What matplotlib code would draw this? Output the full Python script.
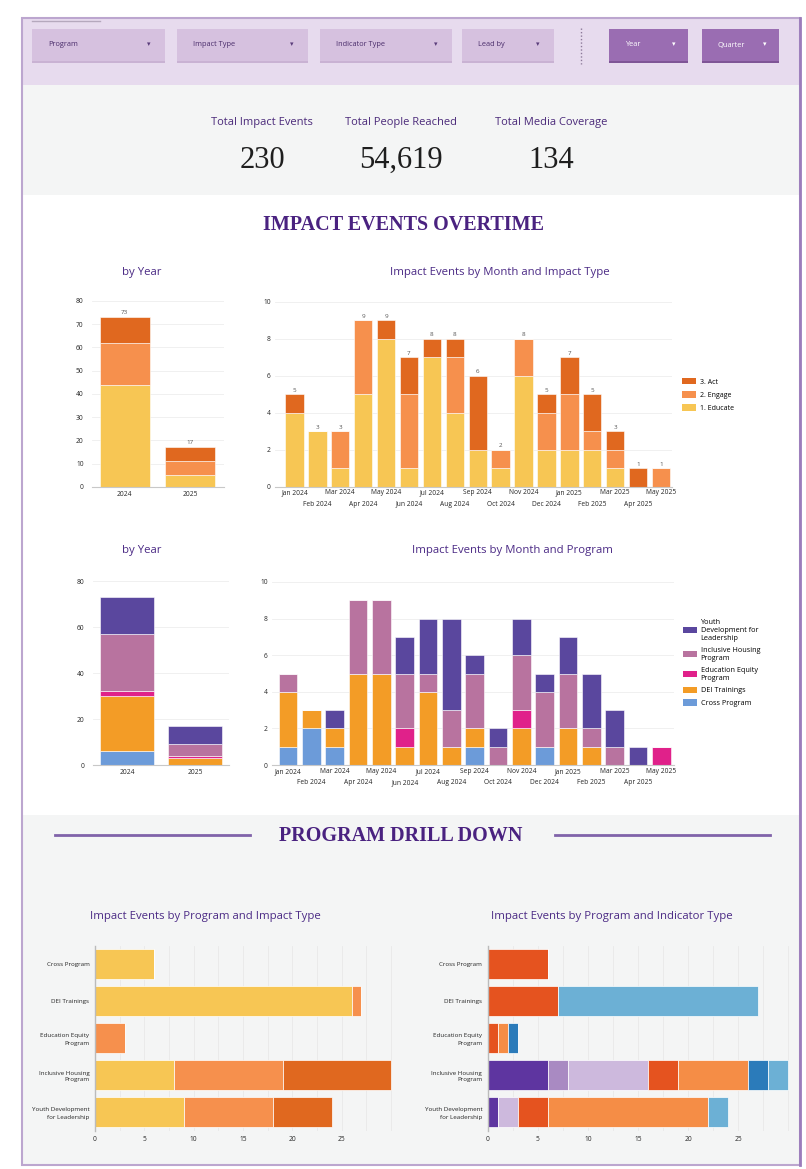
import matplotlib
matplotlib.use('Agg')
import matplotlib.pyplot as plt
from matplotlib.patches import Rectangle, Patch
from matplotlib.lines import Line2D
import numpy as np

plt.rcParams['font.family'] = ['Open Sans', 'DejaVu Sans']

W, H = 806, 1169

# ---------------- data ----------------
months = ['Jan 2024', 'Feb 2024', 'Mar 2024', 'Apr 2024', 'May 2024', 'Jun 2024',
          'Jul 2024', 'Aug 2024', 'Sep 2024', 'Oct 2024', 'Nov 2024', 'Dec 2024',
          'Jan 2025', 'Feb 2025', 'Mar 2025', 'Apr 2025', 'May 2025']
educate = [4, 3, 1, 5, 8, 1, 7, 4, 2, 1, 6, 2, 2, 2, 1, 0, 0]
engage = [0, 0, 2, 4, 0, 4, 0, 3, 0, 1, 2, 2, 3, 1, 1, 0, 1]
act = [1, 0, 0, 0, 1, 2, 1, 1, 4, 0, 0, 1, 2, 2, 1, 1, 0]

years = ['2024', '2025']
year_educate = [44, 5]
year_engage = [18, 6]
year_act = [11, 6]

cross_m = [1, 2, 1, 0, 0, 0, 0, 0, 1, 0, 0, 1, 0, 0, 0, 0, 0]
dei_m = [3, 1, 1, 5, 5, 1, 4, 1, 1, 0, 2, 0, 2, 1, 0, 0, 0]
edu_m = [0, 0, 0, 0, 0, 1, 0, 0, 0, 0, 1, 0, 0, 0, 0, 0, 1]
incl_m = [1, 0, 0, 4, 4, 3, 1, 2, 3, 1, 3, 3, 3, 1, 1, 0, 0]
youth_m = [0, 0, 1, 0, 0, 2, 3, 5, 1, 1, 2, 1, 2, 3, 2, 1, 0]

year_cross = [6, 0]
year_dei = [24, 3]
year_edu = [2, 1]
year_incl = [25, 5]
year_youth = [16, 8]

programs = ['Cross Program', 'DEI Trainings', 'Education Equity\nProgram',
            'Inclusive Housing\nProgram', 'Youth Development\nfor Leadership']
prog_educate = [6, 26, 0, 8, 9]
prog_engage = [0, 1, 3, 11, 9]
prog_act = [0, 0, 0, 11, 6]

indicator_types = ['Indicator 1', 'Indicator 2', 'Indicator 3', 'Indicator 4',
                   'Indicator 5', 'Indicator 6', 'Indicator 7']
indicator_values = [
    [0, 0, 0, 6, 1],
    [0, 0, 0, 2, 0],
    [0, 0, 0, 8, 2],
    [6, 7, 1, 3, 3],
    [0, 0, 1, 7, 16],
    [0, 0, 1, 2, 0],
    [0, 20, 0, 2, 2],
]

kpi_labels = ['Total Impact Events', 'Total People Reached', 'Total Media Coverage']
kpi_values = ['230', '54,619', '134']

filters = ['Program', 'Impact Type', 'Indicator Type', 'Lead by']
filters2 = ['Year', 'Quarter']

# ---------------- styles ----------------
C_EDU, C_ENG, C_ACT = '#F7C654', '#F6904D', '#E0681F'
C_YOUTH, C_INCL, C_EQ, C_DEI, C_CROSS = '#5A479E', '#B8739F', '#E0218A', '#F39C26', '#6C9BD9'
IND_COLORS = ['#5E35A0', '#A98AC2', '#CDB9DD', '#E5531F', '#F58D46', '#2B7BBA', '#6CB0D5']
PURPLE_T = '#4B2A85'
TICK_C = '#262626'

fig = plt.figure(figsize=(W / 100, H / 100), dpi=100)
fig.patch.set_facecolor('white')


def rect(x0, y0, x1, y1, **kw):
    r = Rectangle((x0 / W, 1 - y1 / H), (x1 - x0) / W, (y1 - y0) / H,
                  transform=fig.transFigure, **kw)
    fig.add_artist(r)
    return r


def ftext(x, y, s, **kw):
    kw.setdefault('ha', 'center')
    kw.setdefault('va', 'center')
    return fig.text(x / W, 1 - y / H, s, **kw)


def fline(x0, y0, x1, y1, **kw):
    fig.add_artist(Line2D([x0 / W, x1 / W], [1 - y0 / H, 1 - y1 / H],
                          transform=fig.transFigure, **kw))


def axpx(l, t, r, b):
    ax = fig.add_axes([l / W, 1 - b / H, (r - l) / W, (b - t) / H])
    ax.set_facecolor('none')
    return ax


# ---------------- backgrounds ----------------
rect(22, 18, 800, 85, facecolor='#E7DBEE', edgecolor='none', zorder=0)
rect(22, 85, 800, 195, facecolor='#F4F5F5', edgecolor='none', zorder=0)
rect(22, 815, 800, 1165, facecolor='#F4F5F5', edgecolor='none', zorder=0)
rect(22, 18, 800, 1165, facecolor='none', edgecolor='#BCA6CF', linewidth=1.5, zorder=1)
fline(800, 18, 800, 1165, color='#9B7CBB', linewidth=2)
fline(32, 21, 100, 21, color='#B5A8BD', linewidth=1)

# filter buttons
btn_pos = [(32, 165), (177, 308), (320, 452), (462, 554)]
for (x0, x1), lab in zip(btn_pos, filters):
    rect(x0, 31, x1, 63, facecolor='#C9B2D3', edgecolor='none', zorder=1)
    rect(x0, 29, x1, 61, facecolor='#D6C1DF', edgecolor='none', zorder=2)
    ftext(x0 + 16, 45, lab, ha='left', fontsize=5.3, color='#4A2D6B', zorder=3)
    ftext(x1 - 16, 44, '\u25BE', fontsize=5, color='#5A3D7B', zorder=3,
          family=['DejaVu Sans'])
btn2_pos = [(609, 688), (702, 779)]
for (x0, x1), lab in zip(btn2_pos, filters2):
    rect(x0, 31, x1, 63, facecolor='#7F5596', edgecolor='none', zorder=1)
    rect(x0, 29, x1, 61, facecolor='#9A6DB2', edgecolor='none', zorder=2)
    ftext(x0 + 16, 45, lab, ha='left', fontsize=5.3, color='white', zorder=3)
    ftext(x1 - 14, 44, '\u25BE', fontsize=5, color='white', zorder=3,
          family=['DejaVu Sans'])
fline(581, 28, 581, 64, color='#8C7A99', linewidth=1, linestyle=(0, (1, 1.5)))

# KPIs
for x, lab, val in zip([262, 401, 551], kpi_labels, kpi_values):
    ftext(x, 123, lab, fontsize=8.0, color='#4B2A7A')
    ftext(x, 160, val, fontsize=22, color='#1E1E1E', family=['Liberation Serif'])

# section headers
ftext(404, 225, 'IMPACT EVENTS OVERTIME', fontsize=14.5, fontweight='bold',
      color='#4A2280', family=['Liberation Serif'])
ftext(401, 836, 'PROGRAM DRILL DOWN', fontsize=14.5, fontweight='bold',
      color='#4A2280', family=['Liberation Serif'])
fline(55, 835, 250, 835, color='#8063A9', linewidth=2)
fline(555, 835, 770, 835, color='#8063A9', linewidth=2)

# chart titles
for x, y, s in [(142, 272, 'by Year'), (500, 272, 'Impact Events by Month and Impact Type'),
                (142, 551, 'by Year'), (512, 551, 'Impact Events by Month and Program'),
                (205, 916, 'Impact Events by Program and Impact Type'),
                (612, 916, 'Impact Events by Program and Indicator Type')]:
    ftext(x, y, s, fontsize=8.2, color=PURPLE_T)


def style_vbar(ax):
    for s in ['top', 'right', 'left']:
        ax.spines[s].set_visible(False)
    ax.spines['bottom'].set_color('#C8C8C8')
    ax.spines['bottom'].set_linewidth(0.8)
    ax.grid(axis='y', color='#EEEEEE', linewidth=0.6)
    ax.set_axisbelow(True)
    ax.tick_params(length=0, labelsize=4.8, labelcolor=TICK_C, pad=3)


def stagger(ax):
    ax.tick_params(axis='x', pad=2)
    for i, t in enumerate(ax.xaxis.get_major_ticks()):
        if i % 2 == 1:
            t.set_pad(10)


# ---------------- chart 1: by year (impact type) ----------------
ax1 = axpx(92, 301, 224, 487)
x = np.arange(len(years))
b = np.zeros(len(years))
for vals, col in [(year_educate, C_EDU), (year_engage, C_ENG), (year_act, C_ACT)]:
    ax1.bar(x, vals, bottom=b, width=0.76, color=col, edgecolor='white', linewidth=0.4)
    b += np.array(vals)
for xi, t in zip(x, b):
    ax1.text(xi, t + 1, f'{int(t)}', ha='center', va='bottom', fontsize=4.5, color='#555555')
ax1.set_xlim(-0.5, 1.52)
ax1.set_ylim(0, 80)
ax1.set_yticks(range(0, 81, 10))
ax1.set_xticks(x)
ax1.set_xticklabels(years)
style_vbar(ax1)
ax1.tick_params(axis='y', pad=6)

# ---------------- chart 2: month x impact type ----------------
ax2 = axpx(275, 301.7, 672, 486.7)
xm = np.arange(len(months))
b = np.zeros(len(months))
for vals, col in [(educate, C_EDU), (engage, C_ENG), (act, C_ACT)]:
    ax2.bar(xm, vals, bottom=b, width=0.8, color=col, edgecolor='white', linewidth=0.4)
    b += np.array(vals)
for xi, t in zip(xm, b):
    ax2.text(xi, t + 0.08, f'{int(t)}', ha='center', va='bottom', fontsize=4.5, color='#555555')
ax2.set_xlim(-0.85, 16.48)
ax2.set_ylim(0, 10)
ax2.set_yticks(range(0, 11, 2))
ax2.set_xticks(xm)
ax2.set_xticklabels(months)
style_vbar(ax2)
stagger(ax2)
h1 = [Patch(facecolor=C_ACT), Patch(facecolor=C_ENG), Patch(facecolor=C_EDU)]
fig.legend(h1, ['3. Act', '2. Engage', '1. Educate'], loc='upper left',
           bbox_to_anchor=(676 / W, 1 - 372 / H), frameon=False, fontsize=5.0,
           handlelength=2.0, handleheight=1.0, labelspacing=0.8, handletextpad=0.5)

# ---------------- chart 3: by year (program) ----------------
ax3 = axpx(93, 581, 229, 765)
b = np.zeros(len(years))
for vals, col in [(year_cross, C_CROSS), (year_dei, C_DEI), (year_edu, C_EQ),
                  (year_incl, C_INCL), (year_youth, C_YOUTH)]:
    ax3.bar(x, vals, bottom=b, width=0.8, color=col, edgecolor='white', linewidth=0.4)
    b += np.array(vals)
ax3.set_xlim(-0.5, 1.5)
ax3.set_ylim(0, 80)
ax3.set_yticks(range(0, 81, 20))
ax3.set_xticks(x)
ax3.set_xticklabels(years)
style_vbar(ax3)
ax3.tick_params(axis='y', pad=6)

# ---------------- chart 4: month x program ----------------
ax4 = axpx(272, 582, 674, 765)
b = np.zeros(len(months))
for vals, col in [(cross_m, C_CROSS), (dei_m, C_DEI), (edu_m, C_EQ),
                  (incl_m, C_INCL), (youth_m, C_YOUTH)]:
    ax4.bar(xm, vals, bottom=b, width=0.8, color=col, edgecolor='white', linewidth=0.4)
    b += np.array(vals)
ax4.set_xlim(-0.69, 16.54)
ax4.set_ylim(0, 10)
ax4.set_yticks(range(0, 11, 2))
ax4.set_xticks(xm)
ax4.set_xticklabels(months)
style_vbar(ax4)
stagger(ax4)
h2 = [Patch(facecolor=c) for c in [C_YOUTH, C_INCL, C_EQ, C_DEI, C_CROSS]]
fig.legend(h2, ['Youth\nDevelopment for\nLeadership', 'Inclusive Housing\nProgram',
                'Education Equity\nProgram', 'DEI Trainings', 'Cross Program'],
           loc='upper left', bbox_to_anchor=(676 / W, 1 - 612 / H), frameon=False,
           fontsize=5.2, handlelength=2.0, handleheight=1.0, labelspacing=0.7,
           handletextpad=0.5)


# ---------------- bottom horizontal charts ----------------
def style_hbar(ax):
    for s in ['top', 'right', 'bottom']:
        ax.spines[s].set_visible(False)
    ax.spines['left'].set_color('#BBBBBB')
    ax.spines['left'].set_linewidth(1.0)
    ax.set_xticks(np.arange(0, 26, 5))
    ax.set_xticks(np.arange(0, 31, 2.5), minor=True)
    ax.grid(axis='x', which='both', color='#E9E9E9', linewidth=0.6)
    ax.set_axisbelow(True)
    ax.tick_params(which='both', length=0, labelsize=4.8, labelcolor=TICK_C, pad=4)
    ax.set_yticks(np.arange(len(programs)))
    ax.set_yticklabels(programs, fontsize=4.5, linespacing=1.5)
    ax.set_ylim(len(programs) - 0.5, -0.5)


ax5 = axpx(95, 945.5, 396, 1130.5)
yp = np.arange(len(programs))
left = np.zeros(len(programs))
for vals, col in [(prog_educate, C_EDU), (prog_engage, C_ENG), (prog_act, C_ACT)]:
    ax5.barh(yp, vals, left=left, height=0.8, color=col, edgecolor='white', linewidth=0.5)
    left += np.array(vals)
ax5.set_xlim(0, 30.5)
style_hbar(ax5)

ax6 = axpx(487.7, 945.5, 790, 1130.5)
left = np.zeros(len(programs))
for name, vals, col in zip(indicator_types, indicator_values, IND_COLORS):
    ax6.barh(yp, vals, left=left, height=0.8, color=col, edgecolor='white',
             linewidth=0.5, label=name)
    left += np.array(vals)
ax6.set_xlim(0, 30.15)
style_hbar(ax6)

fig.savefig('out.png', dpi=100, facecolor=fig.get_facecolor())
